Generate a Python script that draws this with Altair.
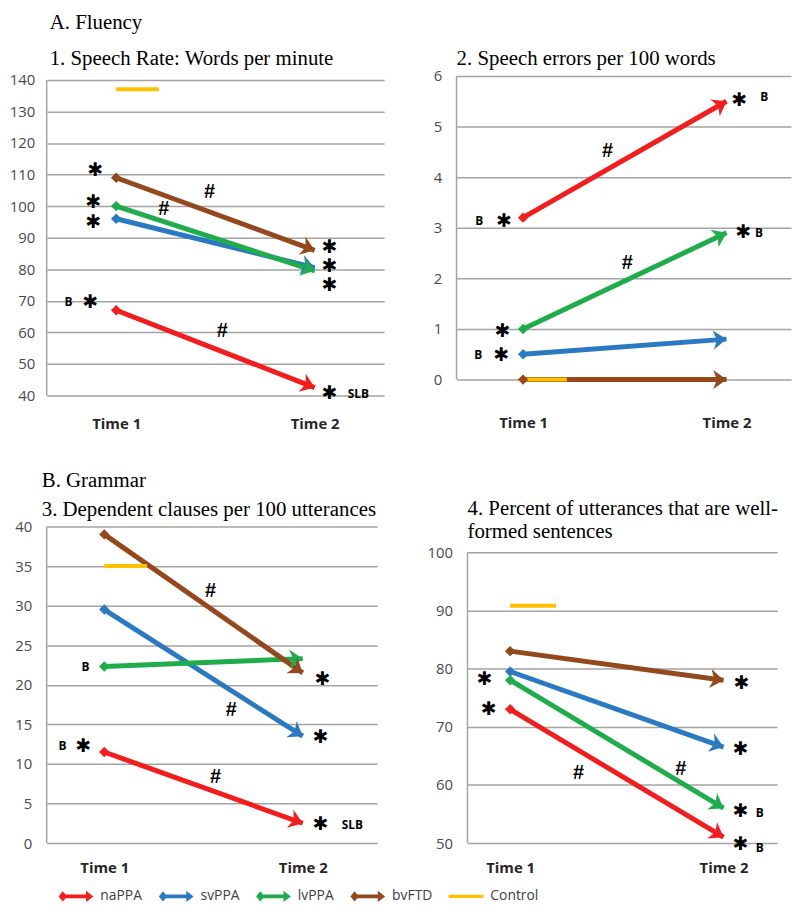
import math
import altair as alt
import pandas as pd

series = ["naPPA", "svPPA", "lvPPA", "bvFTD", "Control"]
series_colors = ["#f41d1d", "#2a79c3", "#1fad4c", "#94481b", "#ffc000"]
groups = series[:4]
time_labels = ["Time 1", "Time 2"]
control_end = 0.215

# ---- Panel 1: Speech rate ----
p1_time1 = [67, 96, 100, 109]
p1_time2 = [42.5, 80.5, 79.5, 86]
p1_control = 137
p1_ticks = [40, 50, 60, 70, 80, 90, 100, 110, 120, 130, 140]
p1_star_x = [-0.105, -0.115, -0.115, -0.13, 1.075, 1.075, 1.075, 1.075]
p1_star_y = [111.4, 101.3, 95.0, 69.6, 86.9, 80.9, 74.9, 40.9]
p1_hash_x = [0.47, 0.24, 0.535]
p1_hash_y = [104.5, 99.1, 60.4]
p1_let_x = [-0.24, 1.22]
p1_let_y = [69.6, 40.6]
p1_let_t = ["B", "SLB"]

# ---- Panel 2: Speech errors ----
p2_time1 = [3.2, 0.5, 1.0, 0.0]
p2_time2 = [5.5, 0.8, 2.9, 0.0]
p2_control = 0.0
p2_ticks = [0, 1, 2, 3, 4, 5, 6]
p2_star_x = [1.063, -0.093, 1.083, -0.10, -0.107]
p2_star_y = [5.53, 3.14, 2.92, 0.96, 0.49]
p2_hash_x = [0.415, 0.512]
p2_hash_y = [4.51, 2.31]
p2_let_x = [1.185, -0.215, 1.16, -0.22]
p2_let_y = [5.59, 3.14, 2.90, 0.49]
p2_let_t = ["B", "B", "B", "B"]

# ---- Panel 3: Dependent clauses ----
p3_time1 = [11.5, 29.5, 22.3, 39]
p3_time2 = [2.5, 13.5, 23.3, 21.5]
p3_control = 35
p3_ticks = [0, 5, 10, 15, 20, 25, 30, 35, 40]
p3_star_x = [1.10, 1.09, -0.105, 1.09]
p3_star_y = [20.7, 13.4, 12.2, 2.4]
p3_hash_x = [0.535, 0.64, 0.56]
p3_hash_y = [31.8, 16.8, 8.4]
p3_let_x = [-0.095, -0.21, 1.25]
p3_let_y = [22.2, 12.2, 2.3]
p3_let_t = ["B", "B", "SLB"]

# ---- Panel 4: Well-formed sentences ----
p4_time1 = [73, 79.5, 78, 83]
p4_time2 = [51, 66.5, 56, 78]
p4_control = 90.8
p4_ticks = [50, 60, 70, 80, 90, 100]
p4_star_x = [-0.12, -0.10, 1.085, 1.08, 1.08, 1.08]
p4_star_y = [78.2, 73.0, 77.5, 66.2, 55.5, 49.8]
p4_hash_x = [0.80, 0.32]
p4_hash_y = [62.8, 62.1]
p4_let_x = [1.17, 1.17]
p4_let_y = [55.1, 49.2]
p4_let_t = ["B", "B"]

SERIF = "Liberation Serif"
SANS = "Open Sans"
GRID = "#a3a3a3"

ARROW_HEAD = "M0,0 L-1,-0.72 L-0.72,0 L-1,0.72 Z"
LEGEND_ARROW = ("M-1,0 L-0.76,-0.3 L-0.6,-0.11 L0.58,-0.11 L0.58,-0.32 L1,0 "
                "L0.58,0.32 L0.58,0.11 L-0.6,0.11 L-0.76,0.3 Z")
LEGEND_LINE = "M-1,-0.09 L1,-0.09 L1,0.09 L-1,0.09 Z"


def panel(t1, t2, ctrl, ticks, xdom, w, h, extra_top, title, star_x, star_y, hash_x, hash_y,
          let_x, let_y, let_t, xpad, ypad):
    ky = h / (ticks[-1] - ticks[0])
    ydom = [ticks[0], ticks[-1] + extra_top / ky]
    kx = w / (xdom[1] - xdom[0])
    lines = pd.DataFrame({"series": groups * 2, "t": [0] * 4 + [1] * 4, "v": t1 + t2})
    heads = pd.DataFrame({
        "series": groups, "t": [1] * 4, "v": t2,
        "angle": [math.degrees(math.atan2(-(b - a) * ky, kx)) % 360 for a, b in zip(t1, t2)],
    })
    starts = pd.DataFrame({"series": groups, "t": [0] * 4, "v": t1})
    ctrl_df = pd.DataFrame({"t": [0], "t2": [control_end], "v": [ctrl]})
    edge_df = pd.DataFrame({"t": [xdom[0]], "v": [ticks[0]], "v2": [ticks[-1]]})
    stars = pd.DataFrame({"t": star_x, "v": star_y})
    hashes = pd.DataFrame({"t": hash_x, "v": hash_y})
    lets = pd.DataFrame({"t": let_x, "v": let_y, "lab": let_t})

    x_axis = alt.Axis(values=[0, 1], grid=False, domain=False, ticks=False, title=None,
                      labelExpr=f"datum.value == 0 ? '{time_labels[0]}' : '{time_labels[1]}'",
                      labelFont=SANS, labelFontWeight="bold", labelFontSize=15,
                      labelColor="#262626", labelPadding=xpad)
    y_axis = alt.Axis(values=ticks, title=None, ticks=False, domain=False,
                      grid=True, gridColor=GRID, gridWidth=1.5,
                      labelFont=SANS, labelFontSize=15, labelColor="#4a4a4a",
                      labelPadding=ypad)
    X = alt.X("t:Q", scale=alt.Scale(domain=xdom, nice=False, zero=False), axis=x_axis)
    Y = alt.Y("v:Q", scale=alt.Scale(domain=ydom, nice=False, zero=False), axis=y_axis)
    C = alt.Color("series:N", scale=alt.Scale(domain=series, range=series_colors), legend=None)

    edge_l = alt.Chart(edge_df).mark_rule(strokeWidth=1.5, color=GRID).encode(x=X, y=Y, y2="v2:Q")
    line_l = alt.Chart(lines).mark_line(strokeWidth=5).encode(x=X, y=Y, color=C, detail="series:N")
    head_l = alt.Chart(heads).mark_point(shape=ARROW_HEAD, filled=True, size=720, opacity=1,
                                         strokeWidth=0).encode(
        x=X, y=Y, color=C, angle=alt.Angle("angle:Q", scale=None))
    start_l = alt.Chart(starts).mark_point(shape="diamond", filled=True, size=110, opacity=1,
                                           strokeWidth=0).encode(x=X, y=Y, color=C)
    ctrl_l = alt.Chart(ctrl_df).mark_rule(strokeWidth=4, color=series_colors[4]).encode(
        x=X, x2="t2:Q", y=Y)
    star_l = alt.Chart(stars).mark_text(text="✱", font="DejaVu Sans", fontSize=19,
                                        color="black").encode(x=X, y=Y)
    hash_l = alt.Chart(hashes).mark_text(text="#", font="Liberation Sans", fontWeight="bold",
                                         fontSize=20, color="black").encode(x=X, y=Y)
    let_l = alt.Chart(lets).mark_text(font=SANS, fontWeight="bold", fontSize=12,
                                      color="black").encode(x=X, y=Y, text="lab:N")
    layers = [edge_l, line_l, ctrl_l, head_l, start_l, star_l, hash_l, let_l]
    return alt.layer(*layers).properties(width=w, height=h + extra_top, title=title)


def ttl(text, sub, dx, pad, offset, dy=0, lh=None):
    kw = dict(text=text, anchor="start", frame="group", dx=dx, dy=dy,
              font=SERIF, fontSize=21, fontWeight="normal", color="black", offset=offset)
    if lh:
        kw.update(lineHeight=lh)
    if sub:
        kw.update(subtitle=sub, subtitleFont=SERIF, subtitleFontSize=21,
                  subtitleColor="black", subtitlePadding=pad)
    return alt.TitleParams(**kw)


p1 = panel(p1_time1, p1_time2, p1_control, p1_ticks, [-0.35, 1.35], 340, 318, 4,
           ttl("A.  Fluency", "1. Speech Rate: Words per minute", 3, 15, 4),
           p1_star_x, p1_star_y, p1_hash_x, p1_hash_y, p1_let_x, p1_let_y, p1_let_t,
           21, 12)
p2 = panel(p2_time1, p2_time2, p2_control, p2_ticks, [-0.327, 1.317], 337, 306, 0,
           ttl("2.  Speech errors per 100 words", None, 0, 0, 0),
           p2_star_x, p2_star_y, p2_hash_x, p2_hash_y, p2_let_x, p2_let_y, p2_let_t,
           36, 15)
p3 = panel(p3_time1, p3_time2, p3_control, p3_ticks, [-0.29, 1.375], 333, 319, 0,
           ttl("B.  Grammar", "3.  Dependent clauses per 100 utterances", -5, 8, 0),
           p3_star_x, p3_star_y, p3_hash_x, p3_hash_y, p3_let_x, p3_let_y, p3_let_t,
           18, 15)
p4 = panel(p4_time1, p4_time2, p4_control, p4_ticks, [-0.2, 1.251], 312, 293, 26,
           ttl(["4.  Percent of utterances that are well-", "formed sentences"], None, 0, 0, 0,
               dy=16, lh=24),
           p4_star_x, p4_star_y, p4_hash_x, p4_hash_y, p4_let_x, p4_let_y, p4_let_t,
           18, 15)

legend_spec = dict(orient="none", legendX=12, legendY=0, direction="horizontal",
                   symbolSize=1225, symbolOpacity=1, symbolStrokeWidth=0,
                   labelFont=SANS, labelFontSize=14, labelColor="#404040",
                   columnPadding=16, labelOffset=7, padding=0)
leg_df = pd.DataFrame({"series": series})
legend_chart = alt.Chart(leg_df).mark_point(filled=True, strokeWidth=0).encode(
    color=alt.Color("series:N", scale=alt.Scale(domain=series, range=series_colors),
                    title=None, legend=alt.Legend(**legend_spec)),
    shape=alt.Shape("series:N", scale=alt.Scale(domain=series,
                                                 range=[LEGEND_ARROW] * 4 + [LEGEND_LINE]),
                    title=None, legend=alt.Legend(**legend_spec)),
).transform_filter("false").properties(width=700, height=20)

chart = alt.vconcat(
    alt.vconcat(
        alt.hconcat(p1, p2, spacing=47),
        alt.hconcat(p3, p4, spacing=44),
        spacing=37,
    ),
    legend_chart,
    spacing=2,
).resolve_scale(color="independent", shape="independent").resolve_legend(
    color="independent", shape="independent"
).properties(padding=0, background="white").configure_view(
    stroke="transparent"
).configure_legend(labelFont=SANS, labelFontSize=14, labelColor="#404040", labelLimit=200)

chart.save("out.html", embed_options={"renderer": "svg", "actions": False})
